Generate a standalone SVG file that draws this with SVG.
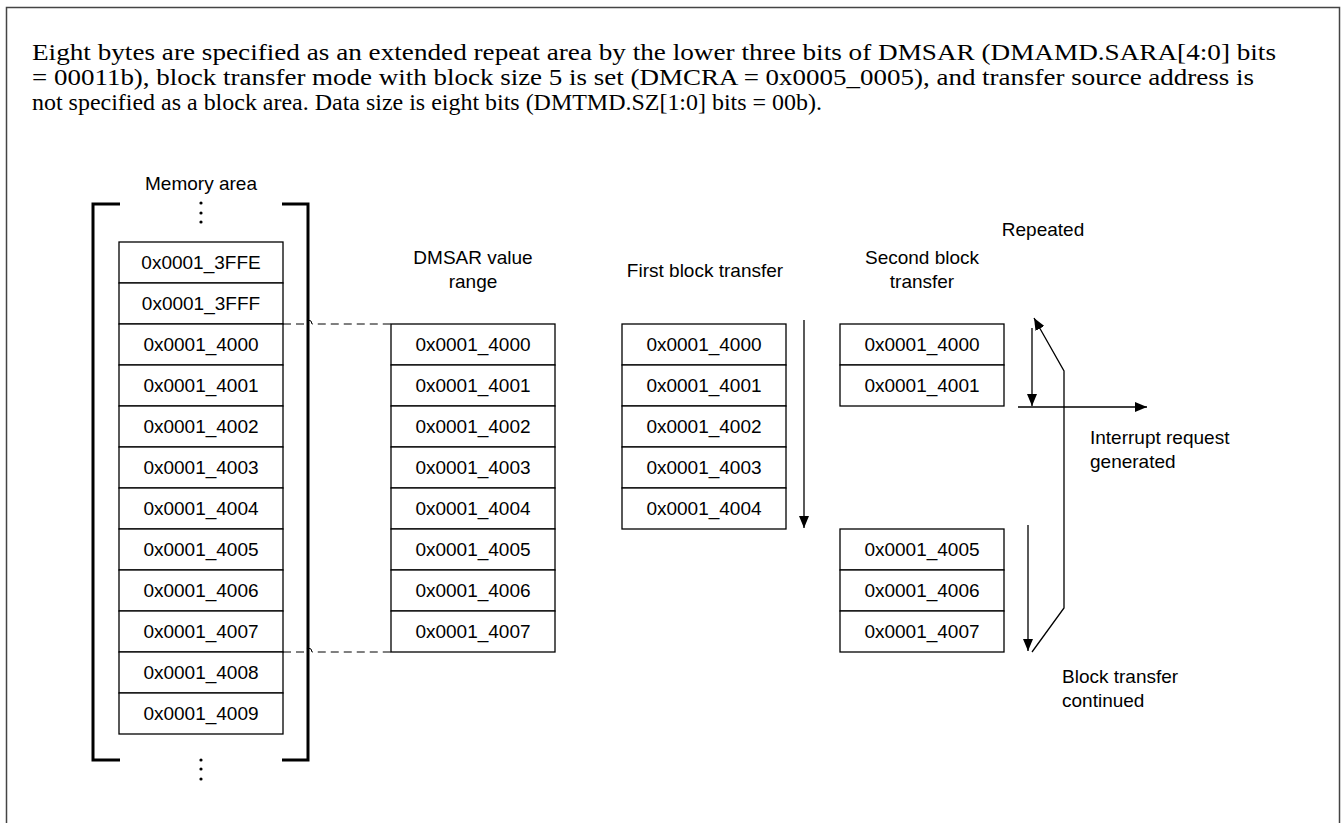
<svg xmlns="http://www.w3.org/2000/svg" width="1341" height="823" viewBox="0 0 1341 823">
<style>
.box{fill:#fff;stroke:#000;stroke-width:1.3}
.t{font-family:"Liberation Sans",Arial,sans-serif;font-size:19px;fill:#000;text-anchor:middle}
.lbl{font-family:"Liberation Sans",Arial,sans-serif;font-size:19px;fill:#000}
.para{font-family:"Liberation Serif","Times New Roman",serif;font-size:23px;fill:#000}
.ln{fill:none;stroke:#000;stroke-width:1.3}
.dash{fill:none;stroke:#000;stroke-width:1;stroke-dasharray:8 5}
.br{fill:none;stroke:#000;stroke-width:3}
</style>
<defs>
<marker id="ah" viewBox="0 0 12 10" refX="12" refY="5" markerWidth="12" markerHeight="10" markerUnits="userSpaceOnUse" orient="auto">
<path d="M0,0 L12,5 L0,10 Z" fill="#000"/>
</marker>
</defs>
<rect x="6.5" y="7.5" width="1333" height="830" fill="#fff" stroke="#444" stroke-width="1.5"/>
<g id="description">
<text class="para" x="32" y="60" textLength="1244" lengthAdjust="spacingAndGlyphs">Eight bytes are specified as an extended repeat area by the lower three bits of DMSAR (DMAMD.SARA[4:0] bits</text>
<text class="para" x="32" y="85" textLength="1222" lengthAdjust="spacingAndGlyphs">= 00011b), block transfer mode with block size 5 is set (DMCRA = 0x0005_0005), and transfer source address is</text>
<text class="para" x="32" y="110" textLength="790" lengthAdjust="spacingAndGlyphs">not specified as a block area. Data size is eight bits (DMTMD.SZ[1:0] bits = 00b).</text>
</g>
<g id="memory-area">
<text class="lbl" x="201" y="190" text-anchor="middle">Memory area</text>
<path class="br" d="M120,204 H93 V760 H120 M282,204 H308 V760 H282"/>
<g fill="#000"><circle cx="201" cy="203" r="1.6"/><circle cx="201" cy="213" r="1.6"/><circle cx="201" cy="222" r="1.6"/>
<circle cx="201" cy="760" r="1.6"/><circle cx="201" cy="769" r="1.6"/><circle cx="201" cy="779" r="1.6"/></g>
<rect class="box" x="119" y="242" width="164" height="41"/><text class="t" x="201" y="269">0x0001_3FFE</text>
<rect class="box" x="119" y="283" width="164" height="41"/><text class="t" x="201" y="310">0x0001_3FFF</text>
<rect class="box" x="119" y="324" width="164" height="41"/><text class="t" x="201" y="351">0x0001_4000</text>
<rect class="box" x="119" y="365" width="164" height="41"/><text class="t" x="201" y="392">0x0001_4001</text>
<rect class="box" x="119" y="406" width="164" height="41"/><text class="t" x="201" y="433">0x0001_4002</text>
<rect class="box" x="119" y="447" width="164" height="41"/><text class="t" x="201" y="474">0x0001_4003</text>
<rect class="box" x="119" y="488" width="164" height="41"/><text class="t" x="201" y="515">0x0001_4004</text>
<rect class="box" x="119" y="529" width="164" height="41"/><text class="t" x="201" y="556">0x0001_4005</text>
<rect class="box" x="119" y="570" width="164" height="41"/><text class="t" x="201" y="597">0x0001_4006</text>
<rect class="box" x="119" y="611" width="164" height="41"/><text class="t" x="201" y="638">0x0001_4007</text>
<rect class="box" x="119" y="652" width="164" height="41"/><text class="t" x="201" y="679">0x0001_4008</text>
<rect class="box" x="119" y="693" width="164" height="41"/><text class="t" x="201" y="720">0x0001_4009</text>
</g>
<g id="dmsar-range">
<text class="lbl" x="473" y="264" text-anchor="middle">DMSAR value</text>
<text class="lbl" x="473" y="288" text-anchor="middle">range</text>
<rect class="box" x="391" y="324" width="164" height="41"/><text class="t" x="473" y="351">0x0001_4000</text>
<rect class="box" x="391" y="365" width="164" height="41"/><text class="t" x="473" y="392">0x0001_4001</text>
<rect class="box" x="391" y="406" width="164" height="41"/><text class="t" x="473" y="433">0x0001_4002</text>
<rect class="box" x="391" y="447" width="164" height="41"/><text class="t" x="473" y="474">0x0001_4003</text>
<rect class="box" x="391" y="488" width="164" height="41"/><text class="t" x="473" y="515">0x0001_4004</text>
<rect class="box" x="391" y="529" width="164" height="41"/><text class="t" x="473" y="556">0x0001_4005</text>
<rect class="box" x="391" y="570" width="164" height="41"/><text class="t" x="473" y="597">0x0001_4006</text>
<rect class="box" x="391" y="611" width="164" height="41"/><text class="t" x="473" y="638">0x0001_4007</text>
</g>
<g id="first-block">
<text class="lbl" x="705" y="277" text-anchor="middle">First block transfer</text>
<rect class="box" x="622" y="324" width="164" height="41"/><text class="t" x="704" y="351">0x0001_4000</text>
<rect class="box" x="622" y="365" width="164" height="41"/><text class="t" x="704" y="392">0x0001_4001</text>
<rect class="box" x="622" y="406" width="164" height="41"/><text class="t" x="704" y="433">0x0001_4002</text>
<rect class="box" x="622" y="447" width="164" height="41"/><text class="t" x="704" y="474">0x0001_4003</text>
<rect class="box" x="622" y="488" width="164" height="41"/><text class="t" x="704" y="515">0x0001_4004</text>
</g>
<g id="second-block">
<text class="lbl" x="922" y="264" text-anchor="middle">Second block</text>
<text class="lbl" x="922" y="288" text-anchor="middle">transfer</text>
<rect class="box" x="840" y="324" width="164" height="41"/><text class="t" x="922" y="351">0x0001_4000</text>
<rect class="box" x="840" y="365" width="164" height="41"/><text class="t" x="922" y="392">0x0001_4001</text>
<rect class="box" x="840" y="529" width="164" height="41"/><text class="t" x="922" y="556">0x0001_4005</text>
<rect class="box" x="840" y="570" width="164" height="41"/><text class="t" x="922" y="597">0x0001_4006</text>
<rect class="box" x="840" y="611" width="164" height="41"/><text class="t" x="922" y="638">0x0001_4007</text>
</g>
<g id="labels">
<text class="lbl" x="1043" y="236" text-anchor="middle">Repeated</text>
<text class="lbl" x="1090" y="444">Interrupt request</text>
<text class="lbl" x="1090" y="468">generated</text>
<text class="lbl" x="1062" y="683">Block transfer</text>
<text class="lbl" x="1062" y="707">continued</text>
</g>
<g id="connectors">
<path class="dash" d="M283,324 H304 A4,4 0 0 1 312,324 H391"/>
<path class="dash" d="M283,652 H304 A4,4 0 0 1 312,652 H391"/>
<path class="ln" d="M804,320 V528" marker-end="url(#ah)"/>
<path class="ln" d="M1032,328 V406" marker-end="url(#ah)"/>
<path class="ln" d="M1018,407 H1147" marker-end="url(#ah)"/>
<path class="ln" d="M1028,525 V651" marker-end="url(#ah)"/>
<path class="ln" d="M1032,652 L1064,608 V371 L1034,318" marker-end="url(#ah)"/>
</g>
</svg>
